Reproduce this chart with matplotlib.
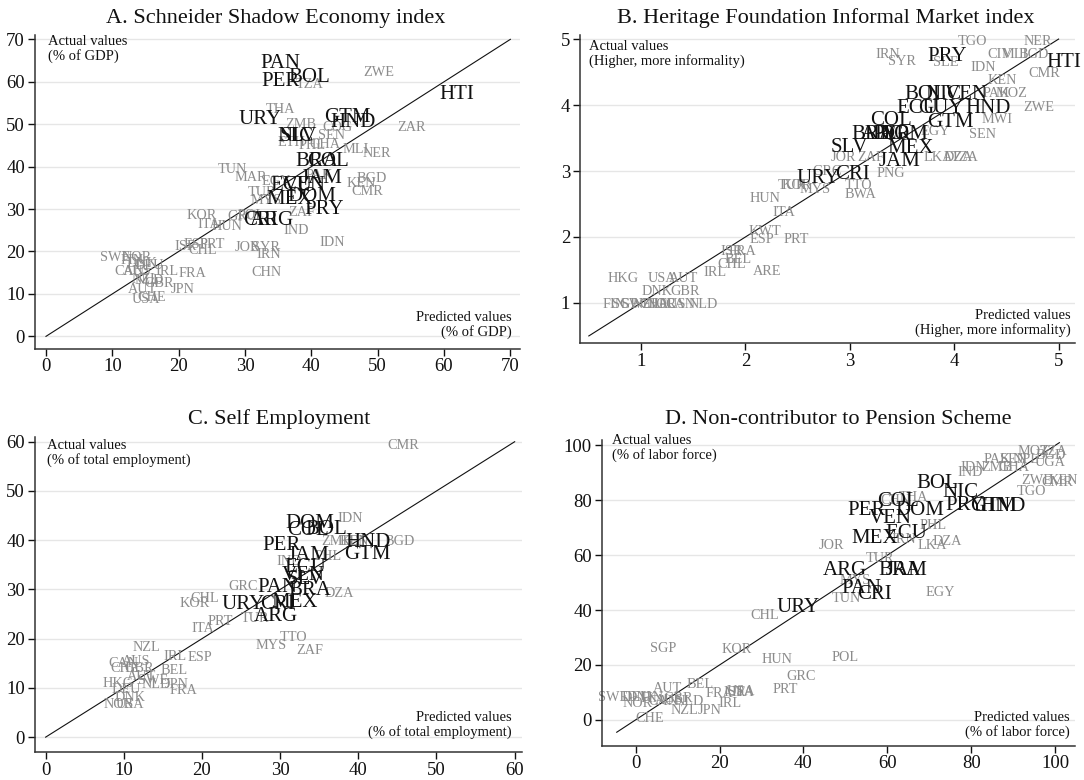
import matplotlib
matplotlib.use("Agg")
import matplotlib.pyplot as plt

plt.rcParams['font.family'] = ['Liberation Serif', 'DejaVu Serif']

LAC = {"ARG", "BOL", "BRA", "COL", "CRI", "DOM", "ECU", "GTM", "GUY", "HND", "HTI",
       "JAM", "MEX", "NIC", "PAN", "PER", "PRY", "SLV", "URY", "VEN"}

# Panel A: Schneider shadow economy (predicted, actual)
a_code = ["BOL", "PAN", "PER", "URY", "GTM", "HND", "HTI", "NIC", "SLV", "BRA", "COL", "JAM",
          "ECU", "VEN", "DOM", "MEX", "PRY", "ARG", "CRI",
          "ZWE", "TZA", "THA", "ZMB", "COG", "SEN", "ZAR", "ETH", "PHL", "GHA", "MLI", "NER",
          "PAK", "KEN", "BGD", "CMR", "TUN", "MAR", "EGY", "TUR", "MYS", "ZAF", "IND", "IDN",
          "JOR", "SYR", "IRN", "CHN", "KOR", "ITA", "HUN", "GRC", "POL", "ISR", "ESP", "PRT",
          "CHL", "SWE", "NOR", "FIN", "DNK", "DEU", "CAN", "AUS", "IRL", "FRA", "NZL", "NLD",
          "GBR", "AUT", "CHE", "USA", "JPN"]
a_pred = [39.7, 35.3, 35.3, 32.3, 45.4, 46.3, 61.9, 37.6, 38.1, 40.9, 42.5, 41.5,
          37.0, 39.0, 40.1, 36.7, 41.9, 34.0, 32.4,
          50.2, 39.7, 35.3, 38.4, 43.9, 43.1, 55.1, 37.0, 40.1, 42.0, 46.7, 49.9,
          41.2, 47.5, 49.1, 48.4, 28.1, 30.9, 34.7, 32.6, 33.2, 38.6, 37.7, 43.1,
          30.3, 33.2, 33.6, 33.2, 23.4, 24.6, 27.3, 29.5, 31.0, 21.0, 22.6, 25.0,
          23.6, 10.4, 13.7, 13.0, 14.5, 15.5, 12.6, 13.8, 18.2, 22.1, 15.0, 15.6,
          17.1, 14.6, 15.9, 15.0, 20.6]
a_act = [61.7, 64.8, 60.6, 51.6, 52.1, 51.1, 57.5, 47.8, 47.8, 41.7, 41.7, 37.7,
         36.2, 36.2, 33.5, 32.8, 30.4, 27.8, 27.8,
         62.5, 59.6, 53.8, 50.4, 49.5, 47.6, 49.5, 46.0, 45.3, 45.5, 44.5, 43.4,
         38.2, 36.3, 37.5, 34.6, 39.6, 37.7, 36.8, 34.2, 32.3, 29.5, 25.2, 22.4,
         21.2, 21.2, 19.6, 15.3, 28.8, 26.6, 26.2, 28.5, 28.8, 21.6, 21.9, 22.1,
         20.7, 18.9, 18.9, 18.2, 17.6, 17.0, 15.6, 15.6, 15.6, 15.1, 13.8, 13.4,
         12.7, 11.3, 9.4, 9.0, 11.3]

# Panel B: Heritage Foundation informal market index
b_code = ["PRY", "HTI", "BOL", "NIC", "VEN", "ECU", "GUY", "HND", "COL", "GTM", "BRA", "ARG",
          "PER", "DOM", "SLV", "MEX", "JAM", "CRI", "URY",
          "TGO", "NER", "IRN", "SYR", "SLE", "CIV", "MLI", "BGD", "IDN", "CMR", "KEN", "PAK",
          "MOZ", "ZWE", "MWI", "SEN", "EGY", "JOR", "ZAF", "LKA", "DZA", "TZA", "PNG", "GRC",
          "HUN", "ITA", "KWT", "ESP", "PRT", "ISR", "FRA", "BEL", "CHL", "ARE", "IRL", "HKG",
          "USA", "AUT", "DNK", "GBR", "NLD", "FIN", "SGP", "SWE", "NZL", "CHE", "NOR", "AUS",
          "CAN", "KOR", "TUR", "MYS", "TTO", "BWA"]
b_pred = [3.93, 5.05, 3.72, 3.90, 4.12, 3.65, 3.87, 4.32, 3.39, 3.96, 3.22, 3.32,
          3.40, 3.52, 3.00, 3.58, 3.48, 3.03, 2.70,
          4.17, 4.80, 3.36, 3.50, 3.92, 4.44, 4.58, 4.76, 4.28, 4.86, 4.46, 4.40,
          4.55, 4.81, 4.41, 4.27, 3.82, 2.94, 3.20, 3.85, 4.04, 4.10, 3.39, 2.78,
          2.19, 2.37, 2.19, 2.16, 2.49, 1.87, 1.97, 1.93, 1.87, 2.21, 1.71, 0.83,
          1.20, 1.41, 1.15, 1.42, 1.60, 0.74, 0.85, 0.95, 1.05, 1.12, 1.20, 1.30,
          1.38, 2.49, 2.45, 2.67, 3.08, 3.10]
b_act = [4.78, 4.68, 4.20, 4.20, 4.20, 3.98, 3.98, 3.98, 3.80, 3.78, 3.59, 3.59,
         3.59, 3.59, 3.39, 3.38, 3.18, 2.99, 2.92,
         4.98, 4.98, 4.79, 4.68, 4.66, 4.79, 4.79, 4.79, 4.59, 4.50, 4.39, 4.20,
         4.20, 3.98, 3.80, 3.58, 3.62, 3.22, 3.22, 3.22, 3.22, 3.22, 2.99, 3.02,
         2.60, 2.40, 2.11, 1.98, 1.99, 1.80, 1.80, 1.68, 1.60, 1.50, 1.49, 1.40,
         1.40, 1.40, 1.20, 1.20, 1.00, 1.00, 1.00, 1.00, 1.00, 1.00, 1.00, 1.00,
         1.00, 2.81, 2.81, 2.74, 2.80, 2.67]

# Panel C: self employment
c_code = ["DOM", "COL", "BOL", "PER", "HND", "GTM", "JAM", "ECU", "VEN", "SLV", "PAN", "BRA",
          "URY", "CRI", "MEX", "ARG",
          "CMR", "IDN", "BGD", "ZMB", "KEN", "PHL", "IND", "DZA", "GRC", "CHL", "KOR", "PRT",
          "TUR", "ITA", "MYS", "TTO", "ZAF", "NZL", "IRL", "ESP", "CAN", "AUS", "CHE", "GBR",
          "BEL", "AUT", "SWE", "HKG", "DEU", "NLD", "JPN", "FRA", "DNK", "NOR", "USA"]
c_pred = [33.8, 33.6, 35.9, 30.2, 41.3, 41.1, 33.6, 33.2, 32.9, 33.2, 29.7, 33.8,
          25.3, 29.7, 31.9, 29.5,
          45.7, 38.9, 45.3, 37.2, 39.5, 36.1, 31.2, 37.5, 25.3, 20.4, 19.1, 22.3,
          26.8, 20.1, 28.9, 31.7, 33.8, 12.9, 16.5, 19.7, 9.9, 11.6, 10.1, 12.0,
          16.5, 12.2, 13.7, 9.3, 10.3, 14.2, 16.7, 17.6, 10.8, 9.3, 10.8]
c_act = [43.8, 42.4, 42.7, 39.4, 40.0, 37.7, 37.3, 35.0, 33.3, 32.5, 30.9, 30.3,
         27.5, 27.5, 27.8, 25.1,
         59.5, 44.8, 40.0, 40.0, 40.0, 37.0, 36.0, 29.5, 31.0, 28.5, 27.5, 23.8,
         24.5, 22.4, 19.0, 20.5, 17.9, 18.5, 16.7, 16.5, 15.3, 15.6, 14.2, 14.3,
         13.8, 12.6, 11.9, 11.1, 10.0, 11.0, 10.9, 9.7, 8.3, 7.0, 7.0]

# Panel D: non-contributors to pension scheme
d_code = ["BOL", "NIC", "PRY", "GTM", "HND", "COL", "DOM", "PER", "VEN", "ECU", "MEX", "ARG",
          "BRA", "JAM", "PAN", "CRI", "URY",
          "MOZ", "TZA", "BGD", "UGA", "PAK", "SEN", "NPL", "IDN", "IND", "ZMB", "GHA", "ZWE",
          "CMR", "KEN", "TGO", "THA", "CHN", "PHL", "IRN", "DZA", "LKA", "JOR", "TUR", "MYS",
          "TUN", "EGY", "CHL", "SGP", "KOR", "HUN", "POL", "GRC", "PRT", "BEL", "AUT", "FRA",
          "ISR", "ITA", "USA", "IRL", "NZL", "JPN", "CHE", "SWE", "DEU", "DNK", "NOR", "FIN",
          "CAN", "GBR", "NLD", "AUS"]
d_pred = [71.8, 77.3, 78.5, 85.2, 87.6, 62.6, 67.8, 55.1, 60.6, 64.6, 57.0, 49.9,
          63.0, 64.6, 53.9, 57.0, 38.7,
          94.8, 99.6, 99.0, 98.8, 86.1, 90.1, 93.0, 80.5, 79.7, 86.1, 90.1, 95.6,
          100.5, 102.0, 94.4, 66.2, 62.0, 71.0, 63.8, 74.2, 70.6, 46.7, 58.2, 52.3,
          50.3, 72.6, 30.8, 6.5, 24.0, 33.6, 49.9, 39.5, 35.6, 15.3, 7.7, 20.0,
          23.5, 25.5, 25.2, 22.4, 11.7, 17.7, 3.3, -5.4, 0.2, 1.5, 0.5, 4.0,
          6.5, 10.1, 12.9, 8.0]
d_act = [87.0, 83.9, 79.1, 78.5, 78.5, 80.3, 77.3, 77.1, 74.3, 68.8, 67.0, 55.5,
         55.5, 55.5, 48.9, 46.5, 41.7,
         98.4, 98.4, 97.0, 94.4, 95.4, 95.4, 95.4, 92.4, 90.6, 92.4, 92.4, 87.9,
         87.2, 87.8, 83.9, 81.5, 80.5, 71.5, 66.4, 65.4, 64.0, 64.2, 59.2, 51.3,
         44.7, 46.9, 38.6, 26.6, 26.3, 22.7, 23.2, 16.3, 11.5, 13.3, 11.8, 10.3,
         10.5, 10.5, 10.9, 6.6, 3.9, 3.9, 1.0, 8.7, 8.7, 8.7, 6.6, 8.5,
         7.2, 8.4, 7.2, 7.5]

titles = ["A. Schneider Shadow Economy index",
          "B. Heritage Foundation Informal Market index",
          "C. Self Employment",
          "D. Non-contributor to Pension Scheme"]
units = ["(% of GDP)", "(Higher, more informality)",
         "(% of total employment)", "(% of labor force)"]

GRAY = "#8c8c8c"
W, H = 1084, 780

fig = plt.figure(figsize=(10.84, 7.80), dpi=100)

# pixel anchors for titles and the two corner notes of each panel
panels = [
    dict(rect=[0.032, 0.553, 0.448, 0.402], code=a_code, x=a_pred, y=a_act,
         xlim=(-1.7, 71.5), ylim=(-2.9, 71.0), ticks=range(0, 71, 10), line=(0, 70),
         title_px=(276, 18), act_px=(48, 49), pred_px=(512, 325)),
    dict(rect=[0.535, 0.560, 0.457, 0.395], code=b_code, x=b_pred, y=b_act,
         xlim=(0.415, 5.16), ylim=(0.39, 5.06), ticks=range(1, 6), line=(0.5, 5.0),
         title_px=(826, 18), act_px=(589, 54), pred_px=(1071, 323)),
    dict(rect=[0.032, 0.036, 0.450, 0.404], code=c_code, x=c_pred, y=c_act,
         xlim=(-1.4, 61.0), ylim=(-3.0, 61.0), ticks=range(0, 61, 10), line=(0, 60),
         title_px=(279, 419), act_px=(47, 453), pred_px=(512, 725)),
    dict(rect=[0.555, 0.044, 0.437, 0.392], code=d_code, x=d_pred, y=d_act,
         xlim=(-8.1, 104.8), ylim=(-9.4, 102.0), ticks=range(0, 101, 20), line=(-4.5, 101),
         title_px=(838, 419), act_px=(612, 448), pred_px=(1070, 725)),
]

for p, title, unit in zip(panels, titles, units):
    ax = fig.add_axes(p["rect"])
    ax.set_xlim(*p["xlim"])
    ax.set_ylim(*p["ylim"])
    ax.set_xticks(list(p["ticks"]))
    ax.set_yticks(list(p["ticks"]))
    ax.grid(axis="y", color="#e6e6e6", lw=1.0)
    ax.set_axisbelow(True)
    for s in ["top", "right"]:
        ax.spines[s].set_visible(False)
    for s in ["left", "bottom"]:
        ax.spines[s].set_color("#333333")
        ax.spines[s].set_linewidth(1.1)
    ax.tick_params(direction="out", length=5, width=1, labelsize=13.5, pad=2, colors="#111111")

    tx, ty = p["title_px"]
    fig.text(tx / W, 1 - ty / H, title, ha="center", va="center", fontsize=16, color="#111111")

    lo, hi = p["line"]
    ax.plot([lo, hi], [lo, hi], color="#111111", lw=0.8, zorder=1)

    # gray labels first, LAC labels on top
    for c, xv, yv in zip(p["code"], p["x"], p["y"]):
        if c not in LAC:
            ax.text(xv, yv, c, ha="center", va="center_baseline", fontsize=10.3,
                    color=GRAY, zorder=2)
    for c, xv, yv in zip(p["code"], p["x"], p["y"]):
        if c in LAC:
            ax.text(xv, yv, c, ha="center", va="center_baseline", fontsize=15,
                    color="#111111", zorder=3)

    axx, axy = p["act_px"]
    fig.text(axx / W, 1 - axy / H, "Actual values\n" + unit, ha="left", va="center",
             fontsize=10.5, linespacing=1.1, color="#111111")
    pxx, pxy = p["pred_px"]
    fig.text(pxx / W, 1 - pxy / H, "Predicted values\n" + unit, ha="right", va="center",
             fontsize=10.5, linespacing=1.1, color="#111111")

fig.savefig("out.png", dpi=100)
